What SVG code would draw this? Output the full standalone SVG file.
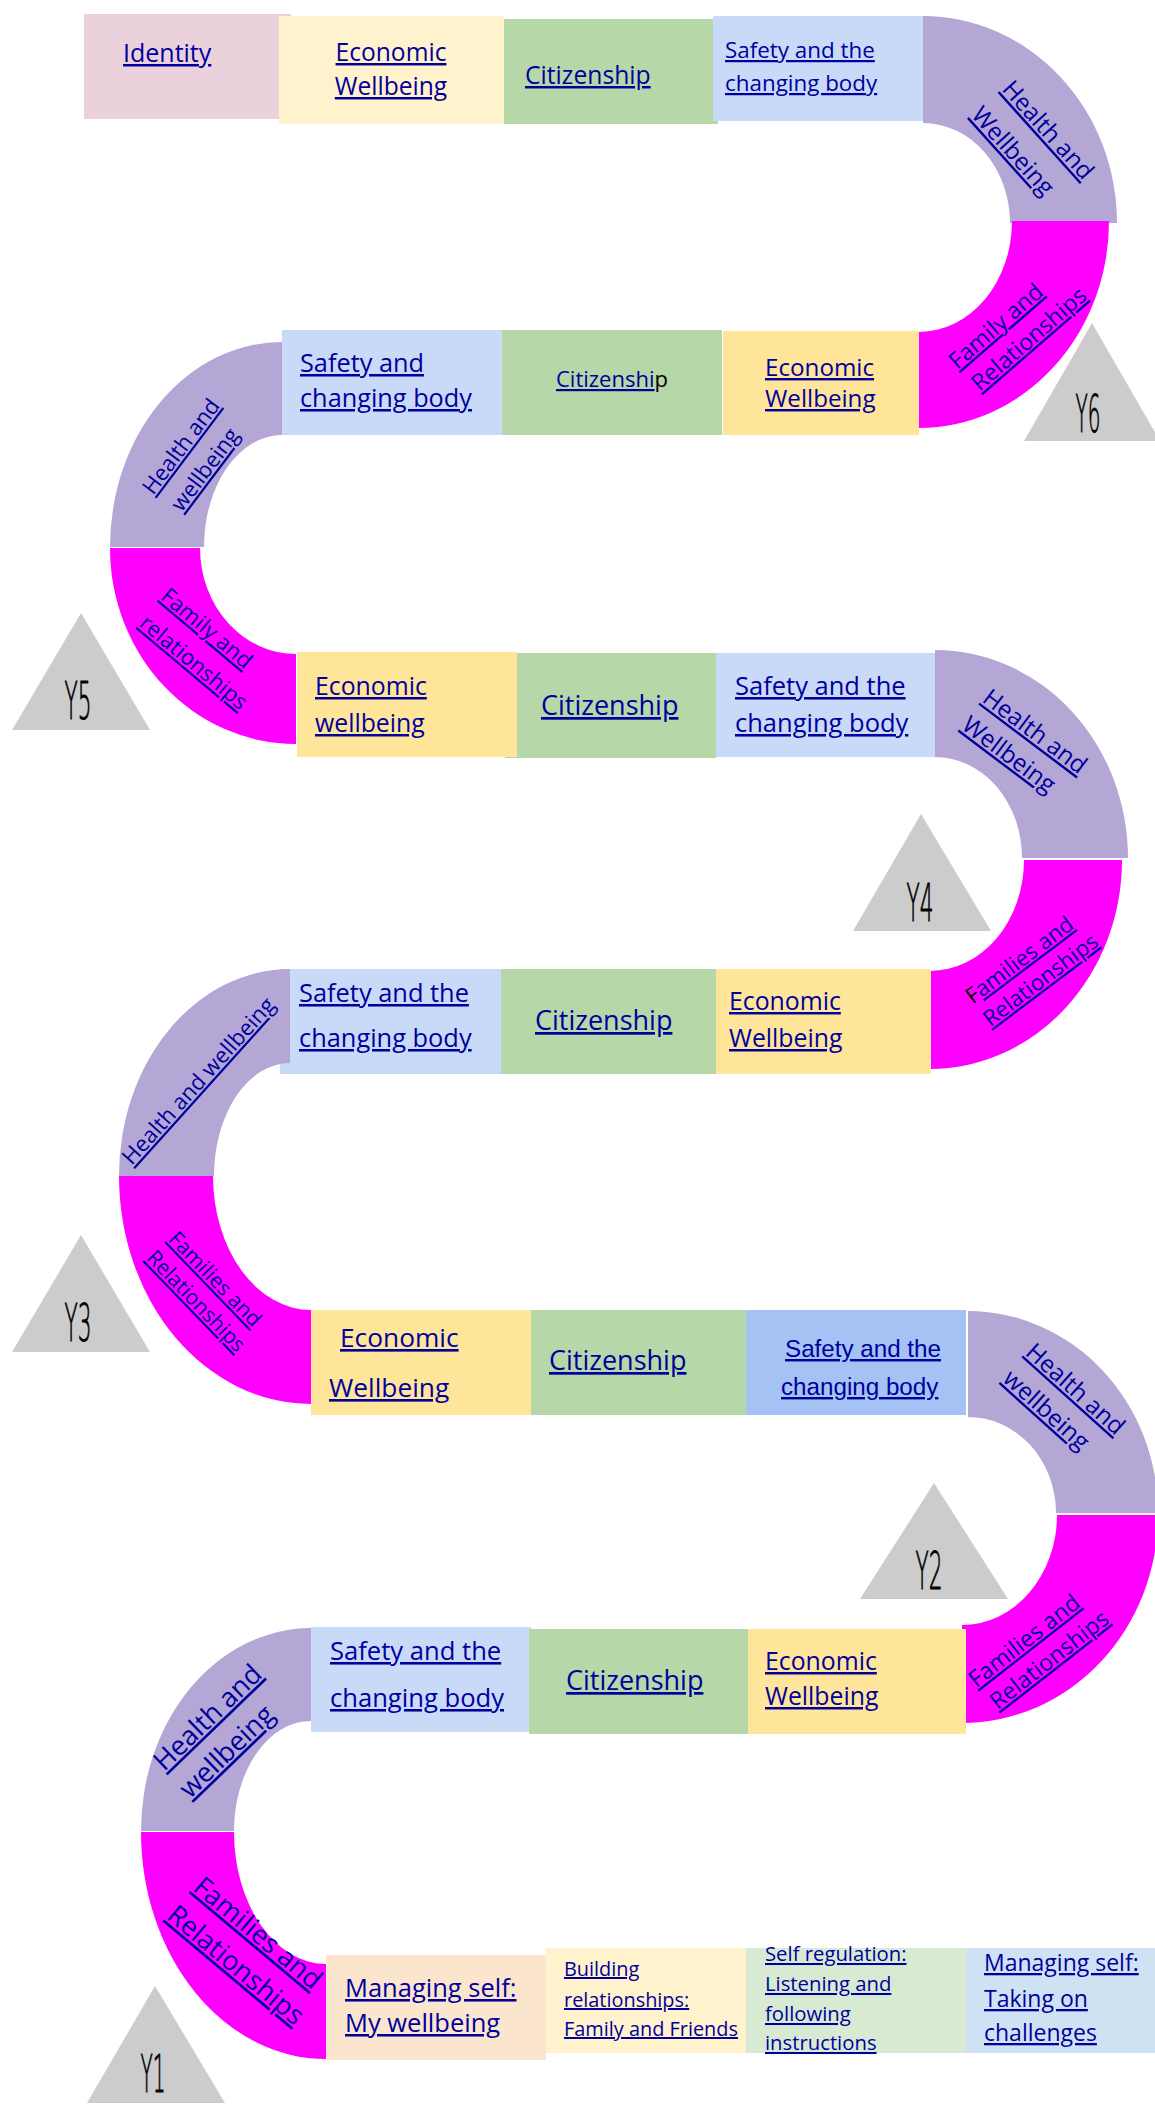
<svg xmlns="http://www.w3.org/2000/svg" width="1155" height="2104" viewBox="0 0 1155 2104">
<style>
.t{font-family:"Open Sans","Noto Sans",sans-serif;fill:#00009C;text-decoration:underline}
.a{font-family:"Liberation Sans",Arial,sans-serif;fill:#00009C;text-decoration:underline}
.m{text-anchor:middle}
.y{font-family:"DejaVu Sans","Liberation Sans",sans-serif;font-weight:200;font-size:52px;fill:#000;stroke:#000;stroke-width:0.9;text-anchor:middle}
.tri{fill:#CCCCCC}
.pur{fill:#B4A7D6}
.mag{fill:#FF00FF}
.blue{fill:#C9DAF8}
.blue2{fill:#A4C2F4}
.grn{fill:#B6D7A8}
.yel{fill:#FFE599}
.lyel{fill:#FFF2CC}
.pink{fill:#EAD1DC}
.peach{fill:#FCE5CD}
.lgrn{fill:#D9EAD3}
.lblue{fill:#CFE2F3}
</style>
<rect width="1155" height="2104" fill="#fff"/>

<!-- Row 1 -->
<g id="identity"><rect class="pink" x="84" y="14" width="207" height="105"/><text class="t" x="123" y="62" font-size="25">Identity</text></g>
<g id="r1-economic"><rect class="lyel" x="279" y="16" width="225" height="108"/><text class="t m" font-size="24.6"><tspan x="391" y="61">Economic</tspan><tspan x="391" y="95">Wellbeing</tspan></text></g>
<g id="r1-citizenship"><rect class="grn" x="504" y="19" width="214" height="105"/><text class="t" x="525" y="84" font-size="24.7">Citizenship</text></g>
<g id="r1-safety"><rect class="blue" x="713" y="16" width="210" height="105"/><text class="t" font-size="22.4"><tspan x="725" y="58">Safety and the</tspan><tspan x="725" y="91">changing body</tspan></text></g>
<g id="r1-health"><path class="pur" d="M923,16 A194,207 0 0 1 1117,223 L1010,223 A87,100 0 0 0 923,123 Z"/><text class="t m" font-size="24" transform="translate(1042,135.5) rotate(48)">Health and</text><text class="t m" font-size="24" transform="translate(1007,156.5) rotate(48)">Wellbeing</text></g>
<g id="r1-family"><path class="mag" d="M1109,221 A190,207 0 0 1 919,428 L919,332 A93,111 0 0 0 1012,221 Z"/><text class="t m" font-size="23" transform="translate(1001,332) rotate(-41)">Family and</text><text class="t m" font-size="23" transform="translate(1034,345) rotate(-41)">Relationships</text></g>
<g id="y6"><polygon class="tri" points="1024,441 1092,323 1160,441"/><text class="y" x="1088" y="432" textLength="25" lengthAdjust="spacingAndGlyphs">Y6</text></g>

<!-- Row 2 -->
<g id="r2-economic"><rect class="yel" x="723" y="331" width="196" height="104"/><text class="t" font-size="24.2"><tspan x="765" y="376">Economic</tspan><tspan x="765" y="407">Wellbeing</tspan></text></g>
<g id="r2-citizenship"><rect class="grn" x="502" y="330" width="220" height="105"/><text font-family="Open Sans, Noto Sans, sans-serif" font-size="22" x="556" y="387"><tspan class="t">Citizenshi</tspan><tspan fill="#000">p</tspan></text></g>
<g id="r2-safety"><rect class="blue" x="282" y="330" width="220" height="105"/><text class="t" font-size="25.3"><tspan x="300" y="372">Safety and</tspan><tspan x="300" y="407">changing body</tspan></text></g>
<g id="r2-health"><path class="pur" d="M282,342 A172,205 0 0 0 110,547 L204,547 A78,112 0 0 1 282,435 Z"/><text class="t m" font-size="22" transform="translate(187,451) rotate(-53)">Health and</text><text class="t m" font-size="22" transform="translate(211,474) rotate(-53)">wellbeing</text></g>
<g id="r2-family"><path class="mag" d="M110,548 A186,196 0 0 0 296,744 L296,654 A96,106 0 0 1 200,548 Z"/><text class="t m" font-size="22" transform="translate(202,634) rotate(40)">Family and</text><text class="t m" font-size="22" transform="translate(189,668) rotate(40)">relationships</text></g>
<g id="y5"><polygon class="tri" points="12,730 81,613 150,730"/><text class="y" x="78" y="719" textLength="27" lengthAdjust="spacingAndGlyphs">Y5</text></g>

<!-- Row 3 -->
<g id="r3-citizenship"><rect class="grn" x="505" y="653" width="211" height="105"/><text class="t" x="541" y="715" font-size="27">Citizenship</text></g>
<g id="r3-economic"><rect class="yel" x="297" y="652" width="220" height="105"/><text class="t" font-size="24.8"><tspan x="315" y="695">Economic</tspan><tspan x="315" y="732">wellbeing</tspan></text></g>
<g id="r3-safety"><rect class="blue" x="716" y="653" width="219" height="104"/><text class="t" font-size="25.5"><tspan x="735" y="695">Safety and the</tspan><tspan x="735" y="732">changing body</tspan></text></g>
<g id="r3-health"><path class="pur" d="M935,650 A193,208 0 0 1 1128,858 L1022,858 A87,101 0 0 0 935,757 Z"/><text class="t m" font-size="24" transform="translate(1030,738) rotate(37)">Health and</text><text class="t m" font-size="24" transform="translate(1004,761) rotate(37)">Wellbeing</text></g>
<g id="r3-family"><path class="mag" d="M1122,860 A192,209 0 0 1 930,1069 L930,971 A94,111 0 0 0 1024,860 Z"/><text font-family="Open Sans, Noto Sans, sans-serif" font-size="22" text-anchor="middle" transform="translate(1024,966) rotate(-37)"><tspan fill="#000">F</tspan><tspan class="t">amilies and</tspan></text><text class="t m" font-size="22" transform="translate(1045,986) rotate(-37)">Relationships</text></g>
<g id="y4"><polygon class="tri" points="853,931 921,814 991,931"/><text class="y" x="920" y="921" textLength="27" lengthAdjust="spacingAndGlyphs">Y4</text></g>

<!-- Row 4 -->
<g id="r4-safety"><rect class="blue" x="280" y="969" width="221" height="105"/><text class="t" font-size="25.4"><tspan x="299" y="1002">Safety and the</tspan><tspan x="299" y="1047">changing body</tspan></text></g>
<g id="r4-citizenship"><rect class="grn" x="501" y="969" width="215" height="105"/><text class="t" x="535" y="1030" font-size="27">Citizenship</text></g>
<g id="r4-economic"><rect class="yel" x="716" y="969" width="215" height="105"/><text class="t" font-size="24.8"><tspan x="729" y="1010">Economic</tspan><tspan x="729" y="1047">Wellbeing</tspan></text></g>
<g id="r4-health"><path class="pur" d="M290,969 A171,207 0 0 0 119,1176 L214,1176 A76,113 0 0 1 290,1063 Z"/><text class="t m" font-size="22" transform="translate(204,1086) rotate(-48)">Health and wellbeing</text></g>
<g id="r4-family"><path class="mag" d="M119,1176 A192,228 0 0 0 311,1404 L311,1310 A98,134 0 0 1 213,1176 Z"/><text class="t m" font-size="21" transform="translate(210,1284) rotate(46)">Families and</text><text class="t m" font-size="21" transform="translate(191,1306) rotate(46)">Relationships</text></g>
<g id="y3"><polygon class="tri" points="12,1352 81,1235 150,1352"/><text class="y" x="78" y="1341" textLength="27" lengthAdjust="spacingAndGlyphs">Y3</text></g>

<!-- Row 5 -->
<g id="r5-economic"><rect class="yel" x="311" y="1310" width="220" height="105"/><text class="t" font-size="26.3"><tspan x="340" y="1347">Economic</tspan><tspan x="329" y="1397">Wellbeing</tspan></text></g>
<g id="r5-citizenship"><rect class="grn" x="531" y="1310" width="215" height="105"/><text class="t" x="549" y="1370" font-size="27">Citizenship</text></g>
<g id="r5-safety"><rect class="blue2" x="746" y="1310" width="220" height="105"/><text class="a" font-size="24.2"><tspan x="785" y="1357">Safety and the</tspan><tspan x="781" y="1395">changing body</tspan></text></g>
<g id="r5-health"><path class="pur" d="M968,1311 A190,202 0 0 1 1158,1513 L1056,1513 A88,96 0 0 0 968,1417 Z"/><text class="t m" font-size="24" transform="translate(1070,1395) rotate(42)">Health and</text><text class="t m" font-size="24" transform="translate(1041,1416) rotate(42)">wellbeing</text></g>
<g id="r5-family"><path class="mag" d="M1158,1515 A196,208 0 0 1 962,1723 L962,1625 A95,110 0 0 0 1057,1515 Z"/><text class="t m" font-size="23" transform="translate(1029,1647) rotate(-38)">Families and</text><text class="t m" font-size="23" transform="translate(1054,1666) rotate(-38)">Relationships</text></g>
<g id="y2"><polygon class="tri" points="860,1599 934,1483 1008,1599"/><text class="y" x="929" y="1589" textLength="27" lengthAdjust="spacingAndGlyphs">Y2</text></g>

<!-- Row 6 -->
<g id="r6-safety"><rect class="blue" x="311" y="1627" width="220" height="105"/><text class="t" font-size="25.6"><tspan x="330" y="1660">Safety and the</tspan><tspan x="330" y="1707">changing body</tspan></text></g>
<g id="r6-citizenship"><rect class="grn" x="529" y="1629" width="219" height="105"/><text class="t" x="566" y="1690" font-size="27">Citizenship</text></g>
<g id="r6-economic"><rect class="yel" x="748" y="1629" width="218" height="105"/><text class="t" font-size="24.8"><tspan x="765" y="1670">Economic</tspan><tspan x="765" y="1705">Wellbeing</tspan></text></g>
<g id="r6-health"><path class="pur" d="M311,1628 A170,203 0 0 0 141,1831 L234,1831 A77,110 0 0 1 311,1721 Z"/><text class="t m" font-size="27" transform="translate(214,1724) rotate(-44)">Health and</text><text class="t m" font-size="27" transform="translate(233,1758) rotate(-44)">wellbeing</text></g>
<g id="r6-family"><path class="mag" d="M141,1832 A185,227 0 0 0 326,2059 L326,1964 A92,132 0 0 1 234,1832 Z"/><text class="t m" font-size="27" transform="translate(252,1940) rotate(40)">Families and</text><text class="t m" font-size="27" transform="translate(230,1972) rotate(40)">Relationships</text></g>
<g id="y1"><polygon class="tri" points="87,2103 155,1986 225,2103"/><text class="y" x="153" y="2092" textLength="25" lengthAdjust="spacingAndGlyphs">Y1</text></g>

<!-- Row 7 -->
<g id="r7-my-wellbeing"><rect class="peach" x="326" y="1955" width="220" height="105"/><text class="t" font-size="25.5"><tspan x="345" y="1997">Managing self:</tspan><tspan x="345" y="2032">My wellbeing</tspan></text></g>
<g id="r7-building"><rect class="lyel" x="546" y="1948" width="200" height="105"/><text class="t" font-size="19.9"><tspan x="564" y="1976">Building</tspan><tspan x="564" y="2007">relationships:</tspan><tspan x="564" y="2036">Family and Friends</tspan></text></g>
<g id="r7-self-regulation"><rect class="lgrn" x="746" y="1948" width="220" height="105"/><text class="t" font-size="20.3"><tspan x="765" y="1961">Self regulation:</tspan><tspan x="765" y="1991">Listening and</tspan><tspan x="765" y="2021">following</tspan><tspan x="765" y="2050">instructions</tspan></text></g>
<g id="r7-challenges"><rect class="lblue" x="966" y="1948" width="189" height="105"/><text class="t" font-size="23"><tspan x="984" y="1971">Managing self:</tspan><tspan x="984" y="2007">Taking on</tspan><tspan x="984" y="2041">challenges</tspan></text></g>
</svg>
